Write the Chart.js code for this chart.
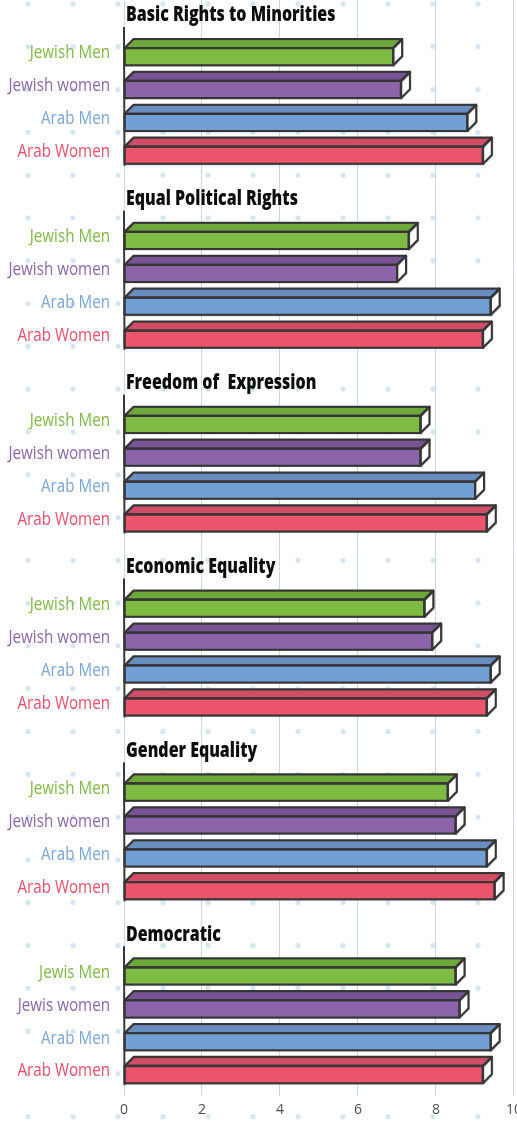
<!DOCTYPE html>
<html>
<head>
<meta charset="utf-8">
<title>Attitudes by group</title>
<script src="https://cdn.jsdelivr.net/npm/chart.js@4.4.1/dist/chart.umd.min.js"></script>
<style>
  html, body { margin: 0; padding: 0; overflow: hidden; }
  body {
    width: 517px;
    height: 1123px;
    position: relative;
    background-color: #fff;
    background-image: radial-gradient(circle, #d4e6f1 2.3px, rgba(255, 255, 255, 0) 3px);
    background-size: 45px 42.8px;
    background-position: 5.5px -17.4px;
  }
  #wrap { position: absolute; left: 0; top: -16px; }
</style>
</head>
<body>
<div id="wrap"><canvas id="attitudes" width="527" height="1139"></canvas></div>
<script>
const topics = ['Basic Rights to Minorities', 'Equal Political Rights', 'Freedom of  Expression', 'Economic Equality', 'Gender Equality', 'Democratic'];
const seriesNames = ['Jewish Men', 'Jewish women', 'Arab Men', 'Arab Women'];
// the last panel is labelled differently
const democraticNames = ['Jewis Men', 'Jewis women', 'Arab Men', 'Arab Women'];

const jewishMen = [6.9, 7.3, 7.6, 7.7, 8.3, 8.5];
const jewishWomen = [7.1, 7.0, 7.6, 7.9, 8.5, 8.6];
const arabMen = [8.8, 9.4, 9.0, 9.4, 9.3, 9.4];
const arabWomen = [9.2, 9.2, 9.3, 9.3, 9.5, 9.2];
const xTicks = [0, 2, 4, 6, 8, 10];

const frontColors = ['#7dbb42', '#8b64a9', '#729fd4', '#ec546c'];
const topColors = ['#6fa83a', '#785494', '#6a8dc0', '#d24d66'];
const labelColors = ['#80ba47', '#8d66ab', '#7ba6d9', '#ec4f6a'];

const DEPTH = 9;
const INK = '#363636';

function getRowName(topicIndex, seriesIndex) {
    return topicIndex === topics.length - 1 ? democraticNames[seriesIndex] : seriesNames[seriesIndex];
}

function squeezeText(ctx, text, x, y, sx) {
    ctx.save();
    ctx.translate(x, y);
    ctx.scale(sx, 1);
    ctx.fillText(text, 0, 0);
    ctx.restore();
}

function tracePath(ctx, pts) {
    ctx.beginPath();
    ctx.moveTo(pts[0][0], pts[0][1]);
    for (var i = 1; i < pts.length; i++) ctx.lineTo(pts[i][0], pts[i][1]);
    ctx.closePath();
}

// one bar as a box: slanted top face, flat front, white end cap
function drawBlock(ctx, x0, x1, top, bottom, front, upper) {
    var d = DEPTH, mid = top + d;
    var faces = [
        [[x0, mid], [x0 + d, top], [x1 + d, top], [x1, mid]],
        [[x0, mid], [x1, mid], [x1, bottom], [x0, bottom]],
        [[x1, mid], [x1 + d, top], [x1 + d, bottom - d], [x1, bottom]]
    ];
    var fills = [upper, front, '#ffffff'];
    faces.forEach(function (f, i) {
        tracePath(ctx, f);
        ctx.fillStyle = fills[i];
        ctx.fill();
    });
    ctx.lineJoin = 'round';
    // hand drawn look: a firm stroke plus a faint shifted one
    [[0, 0, 2, 1], [0.8, 0.7, 1.2, 0.5]].forEach(function (s) {
        ctx.save();
        ctx.translate(s[0], s[1]);
        ctx.strokeStyle = INK;
        ctx.globalAlpha = s[3];
        ctx.lineWidth = s[2];
        faces.forEach(function (f) {
            tracePath(ctx, f);
            ctx.stroke();
        });
        ctx.restore();
    });
}

const bar3d = {
    id: 'bar3d',
    beforeDatasetDraw: function () {
        return false;
    },
    afterDatasetsDraw: function (chart) {
        var ctx = chart.ctx, area = chart.chartArea;
        var heads = chart.getDatasetMeta(0).data;

        for (var d = 1; d <= seriesNames.length; d++) {
            var ds = chart.data.datasets[d];
            chart.getDatasetMeta(d).data.forEach(function (bar, t) {
                var p = bar.getProps(['x', 'y', 'base', 'height'], true);
                drawBlock(ctx, p.base, p.x, p.y - p.height / 2, p.y + p.height / 2, ds.backgroundColor, ds.topColor);

                ctx.fillStyle = ds.labelColor;
                ctx.font = '400 19px "Open Sans"';
                ctx.textAlign = 'right';
                ctx.textBaseline = 'middle';
                squeezeText(ctx, getRowName(t, d - 1), area.left - 14, p.y + 1, 0.8);
            });
        }

        topics.forEach(function (topic, t) {
            var first = chart.getDatasetMeta(1).data[t].getProps(['y', 'height'], true);
            var last = chart.getDatasetMeta(seriesNames.length).data[t].getProps(['y', 'height'], true);
            ctx.save();
            ctx.strokeStyle = INK;
            ctx.lineWidth = 2;
            ctx.beginPath();
            ctx.moveTo(area.left, first.y - first.height / 2 - 12);
            ctx.lineTo(area.left + 0.5, last.y + last.height / 2 + 2);
            ctx.stroke();
            ctx.restore();

            ctx.fillStyle = '#0d0d0d';
            ctx.font = '800 21px "Open Sans"';
            ctx.textAlign = 'left';
            ctx.textBaseline = 'middle';
            squeezeText(ctx, topic, area.left + 2, heads[t].y - 4, 0.76);
        });
    }
};

const datasets = [{
    label: 'heading',
    data: topics.map(function () { return null; }),
    backgroundColor: 'rgba(0,0,0,0)'
}];
seriesNames.forEach(function (name, i) {
    datasets.push({
        label: name,
        data: [jewishMen, jewishWomen, arabMen, arabWomen][i],
        backgroundColor: frontColors[i],
        topColor: topColors[i],
        labelColor: labelColors[i]
    });
});

new Chart(document.getElementById('attitudes'), {
    type: 'bar',
    data: { labels: topics, datasets: datasets },
    options: {
        indexAxis: 'y',
        responsive: false,
        animation: false,
        layout: { padding: { top: 9, left: 0, right: 0, bottom: 0 } },
        datasets: { bar: { categoryPercentage: 0.894, barPercentage: 0.8 } },
        plugins: { legend: { display: false }, tooltip: { enabled: false } },
        scales: {
            x: {
                min: 0,
                max: 10,
                afterBuildTicks: function (scale) {
                    scale.ticks = xTicks.map(function (v) { return { value: v }; });
                },
                ticks: { padding: 5, color: '#4d4d4d', font: { family: 'Open Sans', size: 14 } },
                grid: { color: '#c9d7eb', lineWidth: 1, drawTicks: false },
                border: { display: false }
            },
            y: {
                ticks: { display: false },
                grid: { display: false },
                border: { display: false },
                afterFit: function (scale) { scale.width = 124; }
            }
        }
    },
    plugins: [bar3d]
});
</script>
</body>
</html>
